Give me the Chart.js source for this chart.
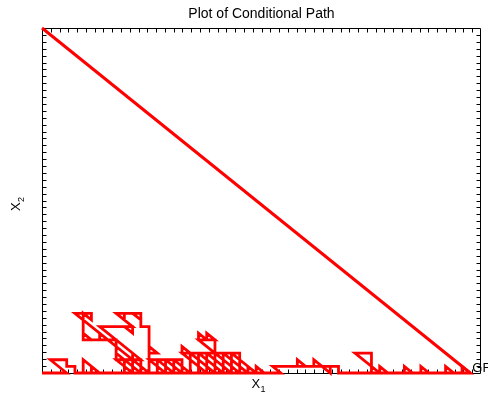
<!DOCTYPE html>
<html>
<head>
<meta charset="utf-8">
<script src="https://cdn.jsdelivr.net/npm/chart.js@4"></script>
<style>
  html, body { margin: 0; padding: 0; background: #fff; }
</style>
</head>
<body>
<canvas id="chart" width="488" height="402"></canvas>
<script>
// axis ranges (lattice units) and tick count
const xMax = 53.3;
const yMax = 52;
const tickCount = 50;

// straight line from the start corner to the end point
const diagX = [0, 52];
const diagY = [52, 0];

// conditional lattice path, vertices in order
const walkPoints = [
  [0,0],[3,0],[1,2],[3,2],[3,1],[4,1],[4,0],[7,0],[5,2],[5,0],[7,0],[6,1],[6,0],
  [11,0],[9,2],[10,2],[10,0],[12,0],[10,2],[11,2],[11,0],[13,0],[11,2],[12,2],[12,0],[13,0],
  [4,9],[6,9],[6,8],[5,9],[5,5],[6,5],[5,6],[5,5],[8,5],[7,6],[7,5],[9,5],
  [9,2],[10,2],[9,3],[9,2],[12,2],[11,3],[11,2],[12,2],
  [7,7],[11,7],[11,6],[10,7],[11,7],[9,9],[10,9],[10,8],[9,9],[12,9],[12,8],[11,9],[12,9],
  [12,7],[13,7],[13,3],[14,3],[13,4],[13,3],[13,0],
  [15,0],[13,2],[14,2],[14,0],[16,0],[14,2],[15,2],[15,0],[17,0],[15,2],[16,2],[16,0],[18,0],[16,2],[17,2],[17,0],
  [20,0],[17,3],[18,3],[17,4],[17,3],[18,3],[18,0],
  [21,0],[18,3],[19,3],[19,0],
  [22,0],[19,3],[20,3],[20,0],
  [23,0],[20,3],[21,3],[19,5],[20,5],[19,6],[19,5],[21,5],[20,6],[20,5],[21,5],[21,0],
  [24,0],[21,3],[22,3],[22,0],
  [25,0],[22,3],[23,3],[23,0],
  [26,0],[23,3],[24,3],[24,0],[25,0],[24,1],[24,0],[26,0],[25,1],[25,0],[27,0],[26,1],[26,0],[29,0],[28,1],
  [32,1],[31,2],[31,1],[34,1],[33,2],[33,1],[35,1],[35,0],[34,1],[36,1],[36,0],
  [41,0],[38,3],[40,3],[40,0],[42,0],[41,1],[41,0],
  [45,0],[44,1],[44,0],[47,0],[46,1],[46,0],[50,0],[49,1],[49,0],[52,0],[51,1],[51,0],[52,0]
];

const titleText = "Plot of Conditional Path";
const endLabel = "GF";

const FONT = '"Liberation Sans", Arial, sans-serif';

const framePlugin = {
  id: "frame",
  beforeDatasetsDraw(chart) {
    const { ctx, chartArea: a, scales } = chart;
    const xs = scales.x, ys = scales.y;
    const L = Math.round(a.left) + 0.5, R = Math.round(a.right) - 0.5;
    const T = Math.round(a.top) + 0.5, B = Math.round(a.bottom) + 0.5;
    ctx.save();
    ctx.strokeStyle = "#000";
    ctx.lineWidth = 1;
    ctx.beginPath();
    ctx.rect(L, T, R - L, B - T);
    const tl = 4;
    for (let i = 1; i < tickCount; i++) {
      const px = Math.round(xs.getPixelForValue(i * xMax / tickCount)) + 0.5;
      ctx.moveTo(px, B); ctx.lineTo(px, B - tl);
      ctx.moveTo(px, T); ctx.lineTo(px, T + tl);
      const py = Math.round(ys.getPixelForValue(yMax - i * yMax / tickCount)) + 0.5;
      ctx.moveTo(L, py); ctx.lineTo(L + tl, py);
      ctx.moveTo(R, py); ctx.lineTo(R - tl, py);
    }
    ctx.stroke();
    ctx.restore();
  },
  afterDraw(chart) {
    const { ctx, chartArea: a, scales } = chart;
    const cx = (a.left + a.right) / 2;
    ctx.save();
    ctx.fillStyle = "#000";
    ctx.textBaseline = "alphabetic";
    // title
    ctx.font = "14px " + FONT;
    ctx.textAlign = "center";
    ctx.fillText(titleText, cx, 18);
    // x label X1
    ctx.textAlign = "left";
    ctx.font = "13px " + FONT;
    ctx.fillText("X", cx - 10, 388);
    ctx.font = "9px " + FONT;
    ctx.fillText("1", cx - 1, 392);
    // y label X2
    ctx.save();
    ctx.translate(20, 211);
    ctx.rotate(-Math.PI / 2);
    ctx.font = "13px " + FONT;
    ctx.fillText("X", 0, 0);
    ctx.font = "9px " + FONT;
    ctx.fillText("2", 9, 4);
    ctx.restore();
    // end label
    const last = walkPoints[walkPoints.length - 1];
    ctx.font = "13px " + FONT;
    ctx.fillText(endLabel, scales.x.getPixelForValue(last[0]) + 2, scales.y.getPixelForValue(last[1]) - 1);
    ctx.restore();
  }
};

new Chart(document.getElementById("chart").getContext("2d"), {
  type: "scatter",
  data: {
    datasets: [
      {
        data: diagX.map((v, i) => ({ x: v, y: diagY[i] })),
        borderColor: "#ff0000",
        borderWidth: 3,
        showLine: true,
        pointRadius: 0,
        clip: false
      },
      {
        data: walkPoints.map(p => ({ x: p[0], y: p[1] })),
        borderColor: "#ff0000",
        borderWidth: 2.8,
        showLine: true,
        pointRadius: 0,
        clip: false
      }
    ]
  },
  options: {
    responsive: false,
    animation: false,
    layout: { padding: { left: 42, right: 7, top: 28, bottom: 29 } },
    plugins: {
      legend: { display: false },
      tooltip: { enabled: false },
      title: { display: false }
    },
    scales: {
      x: { type: "linear", min: 0, max: xMax, display: false },
      y: { type: "linear", min: 0, max: yMax, display: false }
    }
  },
  plugins: [framePlugin]
});
</script>
</body>
</html>
